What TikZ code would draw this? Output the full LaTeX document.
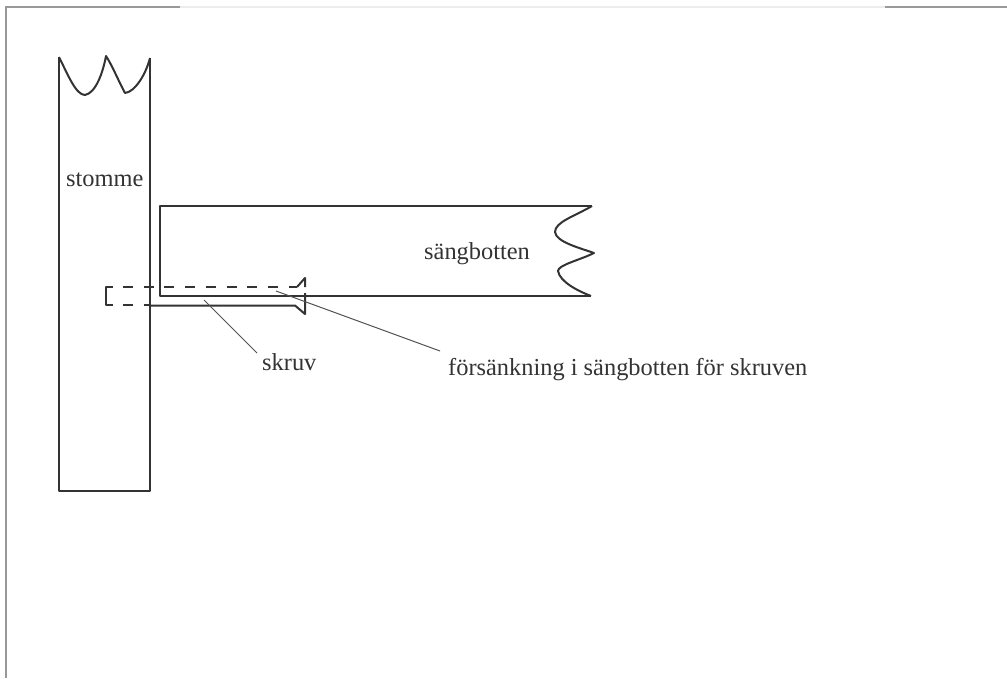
\documentclass[tikz,border=0pt]{standalone}
\usepackage{fontspec}
\setmainfont{Liberation Serif}
\definecolor{ink}{gray}{0.2}
\tikzset{
  x=1pt,y=-1pt,
  part/.style={draw=ink,line width=2pt,line join=round},
  hidden/.style={draw=ink,line width=2.4pt,dash pattern=on 10pt off 10.7pt},
  leader/.style={draw=ink!85,line width=1pt},
  lab/.style={anchor=base west,inner sep=0pt,font=\fontsize{24.4}{28}\selectfont,text=ink},
  frame/.style={line width=1.2pt}
}
\begin{document}
\begin{tikzpicture}
\useasboundingbox (0,0) rectangle (1007,678);
% page frame
\draw[frame,draw=gray!80] (6,678) -- (6,7) -- (180,7);
\draw[frame,draw=gray!15] (180,7) -- (885,7);
\draw[frame,draw=gray!80] (885,7) -- (1007,7);
% stomme
\draw[part] (59,57) -- (59,491) -- (150,491) -- (150,58);
\draw[part] (59,57) .. controls (68,75) and (76,95) .. (85,95)
  .. controls (96,93) and (103,72) .. (106,56)
  .. controls (112,65) and (119,82) .. (125,93)
  .. controls (135,92) and (146,74) .. (150,58);
% sangbotten
\draw[part] (592,205.5) -- (160,205.5) -- (160,296) -- (591,296);
\draw[part] (592,206) .. controls (575,216) and (555,222) .. (555,232)
  .. controls (556,242) and (580,248) .. (594,253)
  .. controls (580,260) and (558,265) .. (558,271)
  .. controls (560,282) and (578,291) .. (591,296);
% screw
\draw[part] (113,286.5) -- (106,286.5) -- (106,305) -- (113,305);
\draw[hidden] (123,287) -- (297,287);
\draw[hidden] (123,305) -- (150,305);
\draw[part] (297,287) -- (305,278) -- (305,287);
\draw[part] (150,305.5) -- (295,305.5) -- (305,314) -- (305,293);
% labels and leaders
\coordinate (skruvend) at (204,300);
\coordinate (forsend) at (276,291);
\node[lab] (stomme) at (66,186) {stomme};
\node[lab] (botten) at (424,259) {sängbotten};
\node[lab] (skruv) at (262,370) {skruv};
\node[lab] (fors) at (448,375) {försänkning i sängbotten för skruven};
\coordinate (skruvstart) at (257,353);
\coordinate (forsstart) at (440,351);
\draw[leader] (skruvend) -- (skruvstart);
\draw[leader] (forsend) -- (forsstart);
\end{tikzpicture}
\end{document}
